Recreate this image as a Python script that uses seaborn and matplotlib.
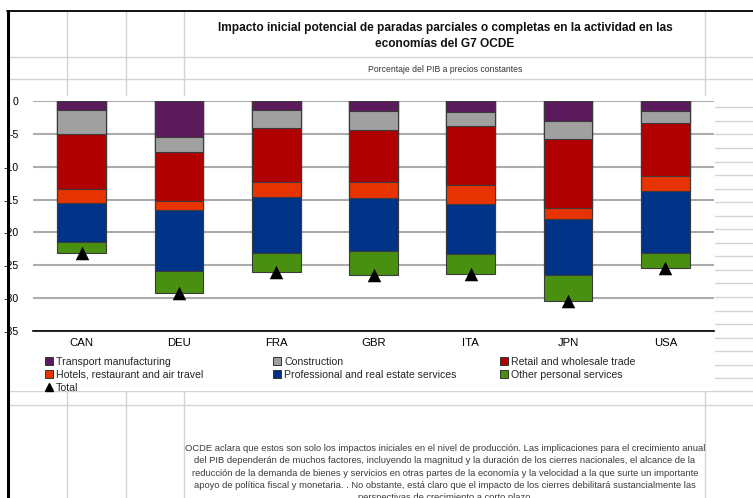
import numpy as np
import pandas as pd
import matplotlib
matplotlib.use("Agg")
import matplotlib.pyplot as plt
from matplotlib.lines import Line2D
from matplotlib.patches import Rectangle
import seaborn as sns

countries = ["CAN", "DEU", "FRA", "GBR", "ITA", "JPN", "USA"]
sectors = ["Transport manufacturing", "Construction", "Retail and wholesale trade",
           "Hotels, restaurant and air travel", "Professional and real estate services",
           "Other personal services"]
transport = [-1.4, -5.45, -1.4, -1.5, -1.65, -3.0, -1.5]
construction = [-3.55, -2.3, -2.75, -2.95, -2.1, -2.8, -1.85]
retail = [-8.4, -7.45, -8.25, -7.85, -9.1, -10.45, -8.05]
hotels = [-2.15, -1.35, -2.2, -2.5, -2.9, -1.7, -2.3]
professional = [-5.9, -9.25, -8.6, -8.1, -7.55, -8.55, -9.4]
other = [-1.8, -3.4, -2.75, -3.55, -3.0, -4.0, -2.25]
colors = ["#5b1a5b", "#a0a0a0", "#b00000", "#e63300", "#003388", "#4a9010"]
yticks = [0, -5, -10, -15, -20, -25, -30, -35]

title = "Impacto inicial potencial de paradas parciales o completas en la actividad en las\neconomías del G7 OCDE"
subtitle = "Porcentaje del PIB a precios constantes"
note = ("OCDE aclara que estos son solo los impactos iniciales en el nivel de producción. Las implicaciones para el crecimiento anual\n"
        "del PIB dependerán de muchos factores, incluyendo la magnitud y la duración de los cierres nacionales, el alcance de la\n"
        "reducción de la demanda de bienes y servicios en otras partes de la economía y la velocidad a la que surte un importante\n"
        "apoyo de política fiscal y monetaria. . No obstante, está claro que el impacto de los cierres debilitará sustancialmente las\n"
        "perspectivas de crecimiento a corto plazo.")

series = [transport, construction, retail, hotels, professional, other]
vals = np.array(series)
cum = np.cumsum(vals, axis=0)
totals = cum[-1]

sns.set_theme(style="white")
plt.rcParams["font.family"] = ["Liberation Sans", "DejaVu Sans"]

W, H = 753, 498
fig = plt.figure(figsize=(W / 100, H / 100), dpi=100)
fig.patch.set_facecolor("white")

def fx(x):
    return x / W

def fy(y):
    return 1 - y / H

def hline(y, x0, x1, color="#d4d4d4", lw=1.0, z=-2):
    fig.add_artist(Line2D([fx(x0), fx(x1)], [fy(y), fy(y)], transform=fig.transFigure,
                          color=color, lw=lw, zorder=z))

def vline(x, y0, y1, color="#d4d4d4", lw=1.0, z=-2):
    fig.add_artist(Line2D([fx(x), fx(x)], [fy(y0), fy(y1)], transform=fig.transFigure,
                          color=color, lw=lw, zorder=z))

# spreadsheet grid
for y in [57, 79]:
    hline(y, 7, W)
for x in [67, 126, 184, 705]:
    vline(x, 11, 96)
    vline(x, 391, H)
for y in [391, 405]:
    hline(y, 7, W)
for k in range(21):
    hline(107.3 + 13.55 * k, 715, W)
# chart area
fig.add_artist(Rectangle((fx(7), fy(391)), fx(715) - fx(7), fy(96) - fy(391),
                         transform=fig.transFigure, facecolor="white", edgecolor="none", zorder=-1))
# borders
hline(11, 7, W, color="black", lw=1.3, z=-0.5)
vline(7.5, 11, H, color="black", lw=2.2, z=-0.5)

ax = fig.add_axes([fx(33), fy(331), fx(714) - fx(33), fy(101) - fy(331)])
ax.set_facecolor("none")

df = pd.DataFrame({"country": countries})
for i in range(len(series) - 1, -1, -1):
    df["cum"] = cum[i]
    sns.barplot(data=df, x="country", y="cum", color=colors[i], width=0.5,
                edgecolor="#3a3a3a", linewidth=0.8, saturation=1, ax=ax, zorder=2)
sns.scatterplot(x=countries, y=totals, marker="^", s=95, color="black",
                edgecolor="black", linewidth=0, ax=ax, zorder=4, clip_on=False)

ax.set_ylim(-35, 0)
ax.set_xlim(-0.5, len(countries) - 0.5)
ax.set_yticks(yticks)
ax.set_yticklabels([str(v) for v in yticks], fontsize=7.6, color="black")
ax.tick_params(axis="y", length=0, pad=10.5)
ax.yaxis.grid(True, color="#acacac", lw=1.5, zorder=0)
ax.set_axisbelow(True)
ax.set_xticks(np.arange(-0.5, len(countries), 1.0))
ax.set_xticklabels([])
ax.set_xticks(range(len(countries)), countries, minor=True)
ax.tick_params(axis="x", which="major", direction="in", length=3, width=1, color="black")
ax.tick_params(axis="x", which="minor", length=0, pad=5, labelsize=8.2, labelcolor="black")
ax.set_xlabel("")
ax.set_ylabel("")
for s in ["top", "right", "left"]:
    ax.spines[s].set_visible(False)
ax.spines["bottom"].set_color("black")
ax.spines["bottom"].set_linewidth(1.2)
ax.spines["bottom"].set_zorder(5)

def sq(c):
    return Line2D([], [], marker="s", ls="none", markersize=5.5, markerfacecolor=c,
                  markeredgecolor="#333333", markeredgewidth=0.7)

tri = Line2D([], [], marker="^", ls="none", markersize=5.5, color="black")
cols = [
    ([sq(colors[0]), sq(colors[3]), tri], [sectors[0], sectors[3], "Total"], 45),
    ([sq(colors[1]), sq(colors[4])], [sectors[1], sectors[4]], 273),
    ([sq(colors[2]), sq(colors[5])], [sectors[2], sectors[5]], 500),
]
for handles, labels, x0 in cols:
    fig.legend(handles, labels, loc="upper left", bbox_to_anchor=(fx(x0), fy(356.5)),
               bbox_transform=fig.transFigure, frameon=False, fontsize=7.6,
               borderpad=0, borderaxespad=0, handlelength=0.8, handletextpad=0.25,
               labelspacing=0.3)

fig.text(fx(445), fy(36), title, ha="center", va="center", fontsize=8.6,
         fontweight="bold", color="#111111", linespacing=1.45)
fig.text(fx(445), fy(69), subtitle, ha="center", va="center", fontsize=6.2, color="#333333")
fig.text(fx(445), fy(473), note, ha="center", va="center", fontsize=6.75,
         color="#3a3a3a", linespacing=1.45)

fig.savefig("out.png", dpi=100, facecolor="white")
